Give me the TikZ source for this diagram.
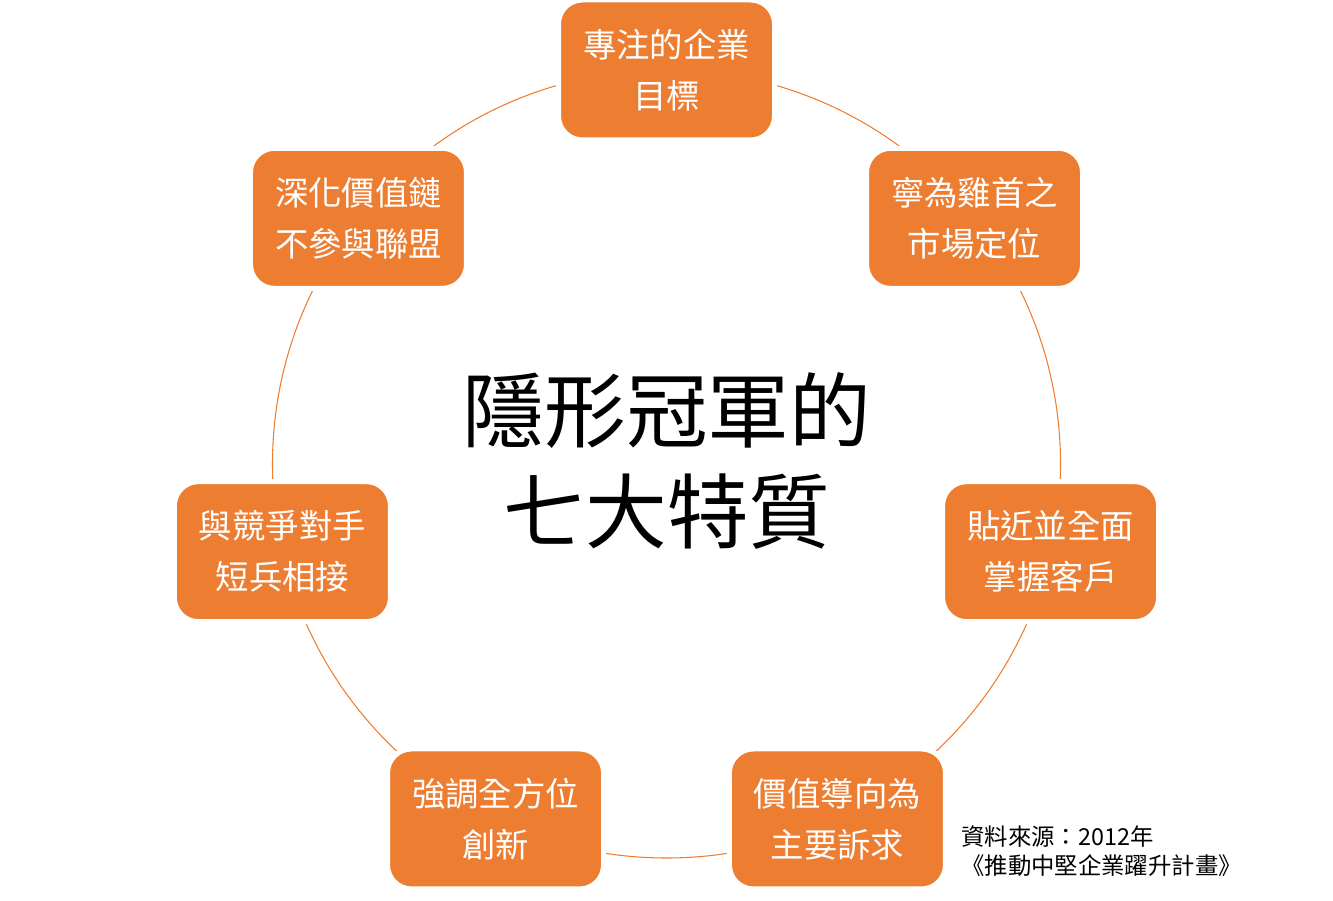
\documentclass[tikz,border=0pt]{standalone}
\usepackage{fontspec}
\setmainfont{Noto Sans CJK TC}
\usepackage{tikz}
\usetikzlibrary{positioning, calc}
\definecolor{accent}{HTML}{ED7D31}

\begin{document}
\begin{tikzpicture}[
    trait/.style={rectangle, rounded corners=0.48cm, fill=accent, draw=white,
        line width=0.1cm, minimum width=4.32cm, minimum height=2.8cm,
        inner sep=0pt, align=center, text=white,
        font=\fontsize{19}{29}\selectfont}
]
    % Canvas
    \useasboundingbox (0,0) rectangle (26.66,18);

    % Ring behind the traits
    \coordinate (hub) at (13.33,8.72);
    \draw[accent, line width=0.6pt] (hub) circle (7.88);

    % Seven traits, clockwise from the top
    \foreach \i/\txt in {0/{專注的企業\\目標}, 1/{寧為雞首之\\市場定位},
                         2/{貼近並全面\\掌握客戶}, 3/{價值導向為\\主要訴求},
                         4/{強調全方位\\創新}, 5/{與競爭對手\\短兵相接},
                         6/{深化價值鏈\\不參與聯盟}} {
        \node[trait] (trait\i) at ($(hub)+({90-\i*360/7}:7.88)$) {\txt};
    }

    % Title in the middle
    \node[font=\fontsize{46.5}{58}\selectfont, align=center] (title)
        at (13.34,8.78) {隱形冠軍的\\七大特質};

    % Source note
    \node[anchor=west, align=left, inner sep=0pt,
          font=\fontsize{13.3}{16.6}\selectfont] (source)
        at (19.22,0.98) {資料來源：2012年\\《推動中堅企業躍升計畫》};
\end{tikzpicture}
\end{document}
